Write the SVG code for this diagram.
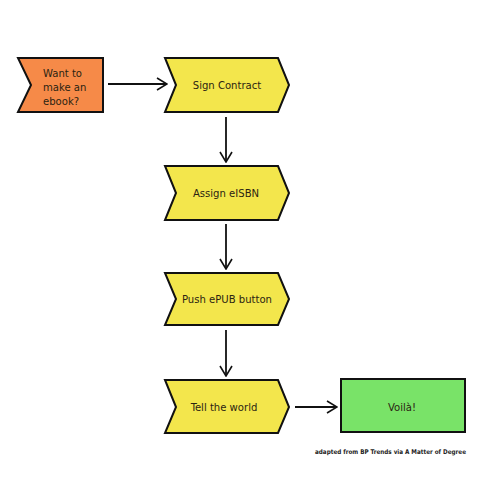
<svg xmlns="http://www.w3.org/2000/svg" width="494" height="494" viewBox="0 0 494 494">
<defs>
<marker id="ah" markerWidth="12" markerHeight="14" refX="11" refY="7" orient="auto" markerUnits="userSpaceOnUse">
<path d="M1,1 L11,7 L1,13" fill="none" stroke="#111" stroke-width="1.6"/>
</marker>
<style>
.step{fill:#f3e64c;stroke:#111;stroke-width:2;stroke-linejoin:miter}
.start{fill:#f68a48;stroke:#111;stroke-width:2}
.end{fill:#79e368;stroke:#111;stroke-width:2}
.lbl{font-family:"DejaVu Sans Condensed","DejaVu Sans","Liberation Sans",sans-serif;font-size:11.2px;fill:#2b2412}
.c{text-anchor:middle}
.conn{stroke:#111;stroke-width:1.8;fill:none;marker-end:url(#ah)}
.credit{font-family:"DejaVu Sans Condensed","DejaVu Sans",sans-serif;font-size:6.4px;font-weight:bold;fill:#222}
</style>
</defs>
<rect width="494" height="494" fill="#fff"/>
<g id="start">
<path class="start" d="M18,58 L103,58 L103,112 L18,112 L31,85 Z"/>
<text class="lbl" x="43" y="77">Want to</text>
<text class="lbl" x="43" y="91">make an</text>
<text class="lbl" x="43" y="105">ebook?</text>
</g>
<g id="sign">
<path class="step" d="M165,58 L278,58 L289,85 L278,112 L165,112 L176,85 Z"/>
<text class="lbl c" x="227" y="89">Sign Contract</text>
</g>
<g id="assign">
<path class="step" d="M165,166 L278,166 L289,193 L278,220 L165,220 L176,193 Z"/>
<text class="lbl c" x="226" y="197">Assign eISBN</text>
</g>
<g id="push">
<path class="step" d="M165,273 L278,273 L289,299 L278,325 L165,325 L176,299 Z"/>
<text class="lbl c" x="227" y="303">Push ePUB button</text>
</g>
<g id="tell">
<path class="step" d="M165,380 L278,380 L289,407 L278,433 L165,433 L176,407 Z"/>
<text class="lbl c" x="224" y="411">Tell the world</text>
</g>
<g id="voila">
<rect class="end" x="341" y="379" width="124" height="53"/>
<text class="lbl c" x="402" y="411">Voilà!</text>
</g>
<g id="connectors">
<line class="conn" x1="108" y1="84" x2="167" y2="84"/>
<line class="conn" x1="226" y1="117" x2="226" y2="162"/>
<line class="conn" x1="226" y1="224" x2="226" y2="269"/>
<line class="conn" x1="226" y1="330" x2="226" y2="376"/>
<line class="conn" x1="295" y1="407" x2="337" y2="407"/>
</g>
<text class="credit" x="315" y="454" textLength="151" lengthAdjust="spacingAndGlyphs">adapted from BP Trends via A Matter of Degree</text>
</svg>
